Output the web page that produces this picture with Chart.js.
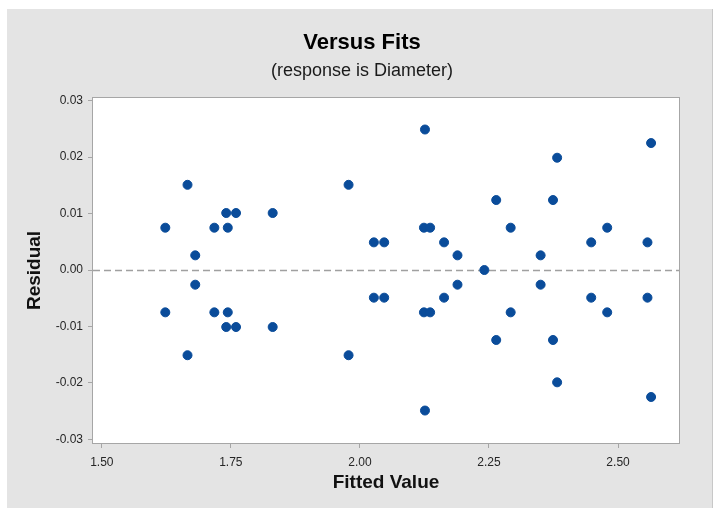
<!DOCTYPE html>
<html>
<head>
<meta charset="utf-8">
<script src="https://cdn.jsdelivr.net/npm/chart.js"></script>
<style>
    body { margin: 0; background: #ffffff; }
    #frame {
        position: absolute; left: 7px; top: 9px; width: 705px; height: 499px;
        background: #e4e4e4; border-right: 1px solid #c8c8c8;
    }
    #wrap { position: absolute; left: 0; top: 0; width: 718px; height: 508px; }
</style>
</head>
<body>
<div id="frame"></div>
<div id="wrap"><canvas id="fitsChart"></canvas></div>
<script>
    // Fitted values and residuals
    const fitted = [
        1.623, 1.623, 1.666, 1.666, 1.681, 1.681, 1.718, 1.718,
        1.744, 1.744, 1.741, 1.741, 1.760, 1.760, 1.831, 1.831,
        1.978, 1.978, 2.027, 2.027, 2.047, 2.047, 2.124, 2.124,
        2.136, 2.136, 2.126, 2.126, 2.163, 2.163, 2.189, 2.189,
        2.241, 2.264, 2.264, 2.292, 2.292, 2.350, 2.350, 2.374,
        2.374, 2.382, 2.382, 2.448, 2.448, 2.479, 2.479, 2.557,
        2.557, 2.564, 2.564
    ];
    const residual = [
        0.0075, -0.0075, 0.0151, -0.0151, 0.0026, -0.0026, 0.0075, -0.0075,
        0.0075, -0.0075, 0.0101, -0.0101, 0.0101, -0.0101, 0.0101, -0.0101,
        0.0151, -0.0151, 0.0049, -0.0049, 0.0049, -0.0049, 0.0075, -0.0075,
        0.0075, -0.0075, 0.0249, -0.0249, 0.0049, -0.0049, 0.0026, -0.0026,
        0.0000, 0.0124, -0.0124, 0.0075, -0.0075, 0.0026, -0.0026, 0.0124,
        -0.0124, 0.0199, -0.0199, 0.0049, -0.0049, 0.0075, -0.0075, 0.0049,
        -0.0049, 0.0225, -0.0225
    ];
    const referenceLevel = 0; // dashed line at residual = 0

    const points = fitted.map((x, i) => ({ x: x, y: residual[i] }));

    // white plot area, border and the dashed zero line
    const plotDecor = {
        id: 'plotDecor',
        beforeDatasetsDraw(chart) {
            const { ctx, chartArea: a, scales } = chart;
            ctx.save();
            ctx.fillStyle = '#ffffff';
            ctx.fillRect(a.left, a.top, a.right - a.left, a.bottom - a.top);
            ctx.strokeStyle = '#a6a6a6';
            ctx.lineWidth = 1;
            ctx.strokeRect(a.left + 0.5, a.top + 0.5, a.right - a.left - 1, a.bottom - a.top - 1);
            const y0 = Math.round(scales.y.getPixelForValue(referenceLevel)) + 0.5;
            ctx.strokeStyle = '#a0a0a0';
            ctx.lineWidth = 1.5;
            ctx.setLineDash([7, 4]);
            ctx.beginPath();
            ctx.moveTo(a.left + 1, y0);
            ctx.lineTo(a.right - 1, y0);
            ctx.stroke();
            ctx.restore();
        }
    };

    const ctx = document.getElementById('fitsChart').getContext('2d');
    new Chart(ctx, {
        type: 'scatter',
        data: {
            datasets: [{
                label: 'Residual',
                data: points,
                backgroundColor: '#0a4c9a',
                borderColor: '#0a4c9a',
                pointRadius: 4.5,
                pointHoverRadius: 4.5
            }]
        },
        options: {
            responsive: true,
            maintainAspectRatio: false,
            animation: false,
            // left padding keeps the title centred like the original
            layout: { padding: { left: 44, right: 38, top: 0, bottom: 0 } },
            scales: {
                x: {
                    type: 'linear',
                    min: 1.481,
                    max: 2.620,
                    afterFit: (s) => { s.height = 64; },
                    border: { display: false },
                    grid: { drawOnChartArea: false, drawTicks: true, tickLength: 4, color: '#a6a6a6' },
                    ticks: {
                        stepSize: 0.25,
                        includeBounds: false,
                        autoSkip: false,
                        maxRotation: 0,
                        padding: 7,
                        color: '#262626',
                        font: { family: 'Liberation Sans, Arial', size: 12 },
                        callback: (v) => v.toFixed(2)
                    },
                    title: {
                        display: true,
                        text: 'Fitted Value',
                        color: '#111111',
                        font: { family: 'Liberation Sans, Arial', size: 19, weight: 'bold' },
                        padding: { top: 0, bottom: 13.6 }
                    }
                },
                y: {
                    min: -0.03083,
                    max: 0.03066,
                    afterFit: (s) => { s.width = 48; },
                    border: { display: false },
                    grid: { drawOnChartArea: false, drawTicks: true, tickLength: 4, color: '#a6a6a6' },
                    ticks: {
                        stepSize: 0.01,
                        includeBounds: false,
                        autoSkip: false,
                        padding: 5,
                        color: '#262626',
                        font: { family: 'Liberation Sans, Arial', size: 12 },
                        callback: (v) => v.toFixed(2)
                    },
                    title: {
                        display: true,
                        text: 'Residual',
                        color: '#111111',
                        font: { family: 'Liberation Sans, Arial', size: 19, weight: 'bold' },
                        padding: { top: -20.4, bottom: 0 }
                    }
                }
            },
            plugins: {
                legend: { display: false },
                tooltip: { enabled: false },
                title: {
                    display: true,
                    text: 'Versus Fits',
                    color: '#000000',
                    font: { family: 'Liberation Sans, Arial', size: 22, weight: 'bold' },
                    padding: { top: 29.3, bottom: 5 }
                },
                subtitle: {
                    display: true,
                    text: '(response is Diameter)',
                    color: '#1a1a1a',
                    font: { family: 'Liberation Sans, Arial', size: 18 },
                    padding: { top: 0, bottom: 14.7 }
                }
            }
        },
        plugins: [plotDecor]
    });
</script>
</body>
</html>
